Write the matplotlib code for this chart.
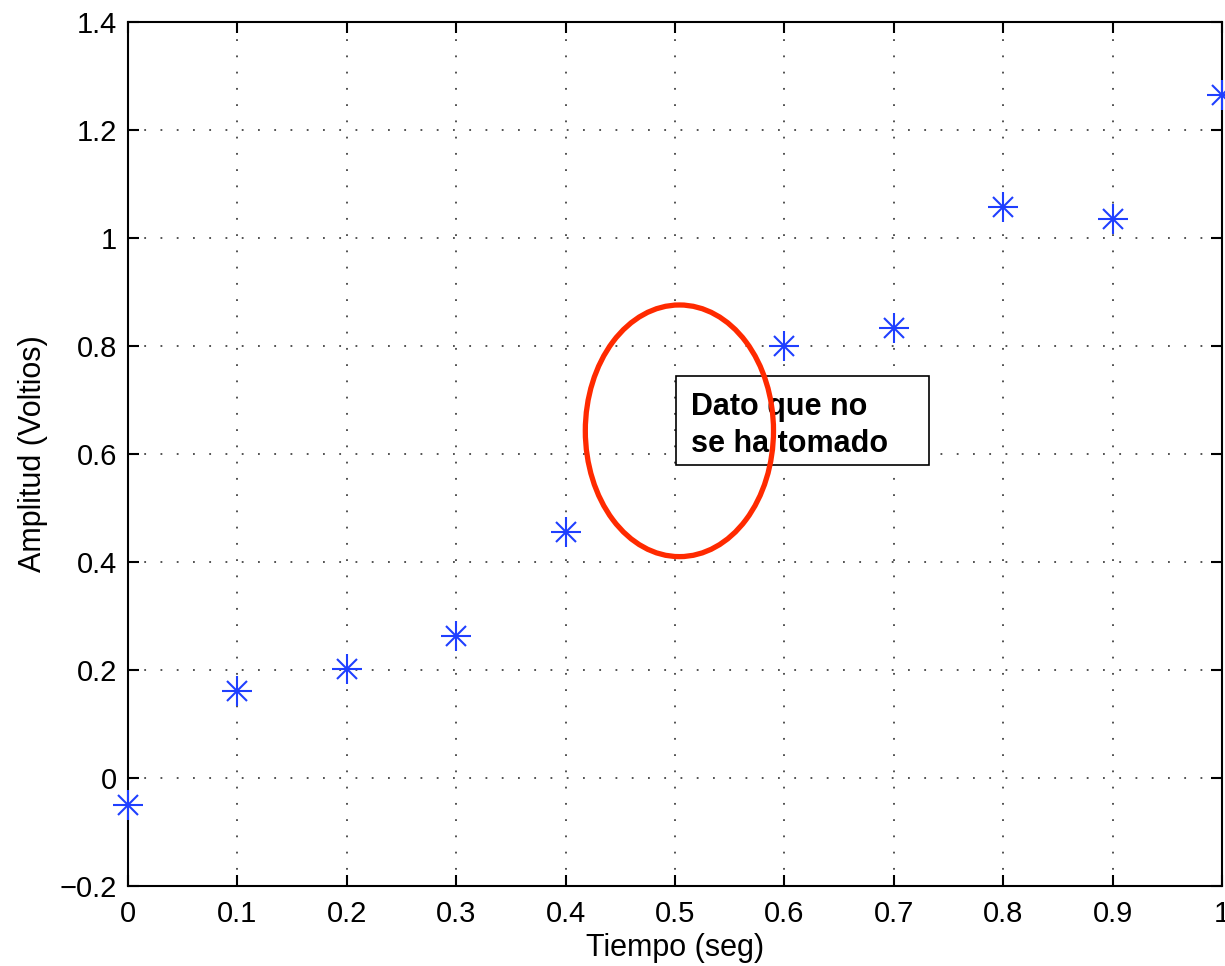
import matplotlib
matplotlib.use("Agg")
import matplotlib.pyplot as plt
from matplotlib.patches import Ellipse, Rectangle

tiempo = [0.0, 0.1, 0.2, 0.3, 0.4, 0.6, 0.7, 0.8, 0.9, 1.0]
amplitud = [-0.05, 0.161, 0.202, 0.263, 0.456, 0.80, 0.833, 1.057, 1.035, 1.265]
xticks = [0, 0.1, 0.2, 0.3, 0.4, 0.5, 0.6, 0.7, 0.8, 0.9, 1.0]
xticklabels = ["0", "0.1", "0.2", "0.3", "0.4", "0.5", "0.6", "0.7", "0.8", "0.9", "1"]
yticks = [-0.2, 0, 0.2, 0.4, 0.6, 0.8, 1.0, 1.2, 1.4]
yticklabels = ["\u22120.2", "0", "0.2", "0.4", "0.6", "0.8", "1", "1.2", "1.4"]

plt.rcParams['font.family'] = ['Liberation Sans', 'DejaVu Sans']

fig = plt.figure(figsize=(12.25, 9.66), dpi=100)
ax = fig.add_axes([0.1045, 0.0828, 0.8931, 0.8944])

blue = '#1f3fff'
ax.plot(tiempo, amplitud, linestyle='none', marker='+', ms=22, mew=1.5, color=blue, zorder=5, clip_on=False)
ax.plot(tiempo, amplitud, linestyle='none', marker='x', ms=15, mew=1.5, color=blue, zorder=5, clip_on=False)

ax.set_xlim(0, 1)
ax.set_ylim(-0.2, 1.4)
ax.set_xticks(xticks)
ax.set_xticklabels(xticklabels)
ax.set_yticks(yticks)
ax.set_yticklabels(yticklabels)
ax.tick_params(direction='in', top=True, right=True, length=8, width=1.5, labelsize=21)
ax.tick_params(axis='x', pad=10)
ax.tick_params(axis='y', pad=8)
for s in ax.spines.values():
    s.set_linewidth(1.5)
ax.grid(True, linestyle=(0, (1, 8)), color='#444444', linewidth=1.3)

ax.set_xlabel('Tiempo (seg)', fontsize=22, labelpad=4)
ax.set_ylabel('Amplitud (Voltios)', fontsize=22, labelpad=8)

# annotation
ell = Ellipse((0.504, 0.643), 0.172, 0.466, fill=False, edgecolor='#ff2a00', linewidth=3.8, zorder=4)
ax.add_patch(ell)
rect = Rectangle((0.501, 0.58), 0.231, 0.164, facecolor='white', edgecolor='black', linewidth=1.2, zorder=3)
ax.add_patch(rect)
ax.text(0.515, 0.714, 'Dato que no\nse ha tomado', fontsize=22, fontweight='bold',
        ha='left', va='top', linespacing=1.3, zorder=3.5)

fig.savefig('out.png', dpi=100)
